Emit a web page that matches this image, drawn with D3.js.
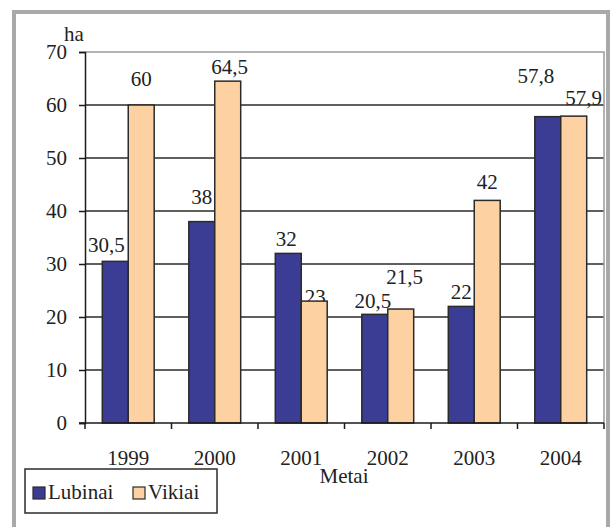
<!DOCTYPE html>
<html>
<head>
<meta charset="utf-8">
<script src="https://cdn.jsdelivr.net/npm/d3@7"></script>
<style>
  body { margin: 0; background: #fff; }
</style>
</head>
<body>
<div id="chart"></div>
<script>
const years = ['1999', '2000', '2001', '2002', '2003', '2004'];
const seriesNames = ['Lubinai', 'Vikiai'];
const lubinai = [30.5, 38, 32, 20.5, 22, 57.8];
const vikiai = [60, 64.5, 23, 21.5, 42, 57.9];
const yTicks = [0, 10, 20, 30, 40, 50, 60, 70];

const colors = { Lubinai: '#3b3c93', Vikiai: '#fdd1a1' };
const serif = "'Liberation Serif', 'Times New Roman', Times, 'Nimbus Roman', 'DejaVu Serif', serif";

// label nudges (px) where the original labels were moved by hand
const labelNudge = {
  'Lubinai-1999': { dx: -9, dy: -9 },
  'Vikiai-1999': { dx: 0, dy: -19 },
  'Lubinai-2000': { dx: 0, dy: -18 },
  'Vikiai-2000': { dx: 2, dy: -7 },
  'Lubinai-2001': { dx: -2, dy: -7 },
  'Vikiai-2001': { dx: 1, dy: 3 },
  'Lubinai-2002': { dx: -2, dy: -6 },
  'Vikiai-2002': { dx: 4, dy: -25 },
  'Lubinai-2003': { dx: 0, dy: -7 },
  'Vikiai-2003': { dx: 0, dy: -11 },
  'Lubinai-2004': { dx: -12, dy: -34 },
  'Vikiai-2004': { dx: 10, dy: -11 },
};

const margin = { top: 52, right: 8, bottom: 104, left: 85 };
const width = 612 - margin.left - margin.right;
const height = 527 - margin.top - margin.bottom;

const svgRoot = d3.select('#chart').append('svg')
    .attr('width', 612)
    .attr('height', 527)
    .attr('font-family', serif)
    .style('font-family', serif);

// outer grey frame
svgRoot.append('rect')
    .attr('x', 14)
    .attr('y', 12)
    .attr('width', 594)
    .attr('height', 530)
    .attr('fill', 'none')
    .attr('stroke', '#a9a9a9')
    .attr('stroke-width', 4);

const svg = svgRoot.append('g')
    .attr('transform', `translate(${margin.left}, ${margin.top})`);

const x0 = d3.scaleBand()
    .domain(years)
    .range([0, width])
    .paddingInner(0.4)
    .paddingOuter(0.2);

const x1 = d3.scaleBand()
    .domain(seriesNames)
    .range([0, x0.bandwidth()]);

const y = d3.scaleLinear()
    .domain([0, 70])
    .range([height, 0]);

// gridlines
svg.append('g')
    .selectAll('line')
    .data(yTicks.filter((t) => t > 0 && t < 70))
  .enter()
    .append('line')
    .attr('x1', 0)
    .attr('x2', width)
    .attr('y1', (d) => y(d))
    .attr('y2', (d) => y(d))
    .attr('stroke', '#2a2a2a')
    .attr('stroke-width', 1.5);

// plot border top/right
svg.append('path')
    .attr('d', `M0,${y(70)}H${width}V${height}`)
    .attr('fill', 'none')
    .attr('stroke', '#9a9a9a')
    .attr('stroke-width', 1.5);

const data = years.map((year, i) => ({
  year,
  values: [
    { name: 'Lubinai', value: lubinai[i] },
    { name: 'Vikiai', value: vikiai[i] },
  ],
}));

const group = svg.selectAll('.year')
    .data(data)
  .enter()
    .append('g')
    .attr('class', 'year')
    .attr('transform', (d) => `translate(${x0(d.year)},0)`);

// labels first so the bars can cover them like in the original
group.selectAll('text.value')
    .data((d) => d.values.map((v) => ({ ...v, year: d.year })))
  .enter()
    .append('text')
    .attr('class', 'value')
    .attr('x', (d) => x1(d.name) + x1.bandwidth() / 2 + labelNudge[`${d.name}-${d.year}`].dx)
    .attr('y', (d) => y(d.value) + labelNudge[`${d.name}-${d.year}`].dy)
    .attr('text-anchor', 'middle')
    .style('font-family', serif)
    .style('font-size', '21px')
    .attr('fill', '#222')
    .text((d) => String(d.value).replace('.', ','));

group.selectAll('rect')
    .data((d) => d.values)
  .enter()
    .append('rect')
    .attr('x', (d) => x1(d.name))
    .attr('y', (d) => y(d.value))
    .attr('width', x1.bandwidth())
    .attr('height', (d) => height - y(d.value))
    .attr('fill', (d) => colors[d.name])
    .attr('stroke', '#2b2b2b')
    .attr('stroke-width', 1.5);

// y axis
const yAxis = svg.append('g')
    .call(d3.axisLeft(y).tickValues(yTicks).tickSize(6).tickPadding(12).tickFormat(d3.format('d')))
    .attr('font-family', serif);
yAxis.select('.domain').attr('stroke', '#1a1a1a').attr('stroke-width', 1.5);
yAxis.selectAll('.tick line').attr('stroke', '#1a1a1a').attr('stroke-width', 1.5);
yAxis.selectAll('.tick text')
    .style('font-family', serif)
    .style('font-size', '21px')
    .attr('fill', '#222');

// x axis: ticks between categories
const bounds = years.map((yr) => x0(yr) - x0.step() * x0.paddingInner() / 2).concat([width]);
const xAxis = svg.append('g')
    .attr('transform', `translate(0, ${height})`);
xAxis.append('line')
    .attr('x1', -6)
    .attr('x2', width)
    .attr('stroke', '#1a1a1a')
    .attr('stroke-width', 1.5);
xAxis.selectAll('line.tick')
    .data(bounds)
  .enter()
    .append('line')
    .attr('class', 'tick')
    .attr('x1', (d) => d)
    .attr('x2', (d) => d)
    .attr('y1', 0)
    .attr('y2', 6)
    .attr('stroke', '#1a1a1a')
    .attr('stroke-width', 1.5);
xAxis.selectAll('text')
    .data(years)
  .enter()
    .append('text')
    .attr('x', (d) => x0(d) + x0.bandwidth() / 2)
    .attr('y', 42)
    .attr('text-anchor', 'middle')
    .style('font-family', serif)
    .style('font-size', '21px')
    .attr('fill', '#222')
    .text((d) => d);

// axis titles
svgRoot.append('text')
    .attr('x', 64)
    .attr('y', 41)
    .style('font-family', serif)
    .style('font-size', '21px')
    .attr('fill', '#222')
    .text('ha');

svgRoot.append('text')
    .attr('x', 344)
    .attr('y', 483)
    .attr('text-anchor', 'middle')
    .style('font-family', serif)
    .style('font-size', '21px')
    .attr('fill', '#222')
    .text('Metai');

// legend
const legend = svgRoot.append('g')
    .attr('transform', 'translate(25, 469)');
legend.append('rect')
    .attr('width', 192)
    .attr('height', 44)
    .attr('fill', '#fff')
    .attr('stroke', '#2b2b2b')
    .attr('stroke-width', 1.5);

const legendItems = legend.selectAll('.item')
    .data(seriesNames)
  .enter()
    .append('g')
    .attr('class', 'item')
    .attr('transform', (d, i) => `translate(${[8, 108][i]}, 18)`);
legendItems.append('rect')
    .attr('width', 12)
    .attr('height', 12)
    .attr('fill', (d) => colors[d])
    .attr('stroke', '#2b2b2b')
    .attr('stroke-width', 1.2);
legendItems.append('text')
    .attr('x', 15)
    .attr('y', 12)
    .style('font-family', serif)
    .style('font-size', '21px')
    .attr('fill', '#222')
    .text((d) => d);
</script>
</body>
</html>
